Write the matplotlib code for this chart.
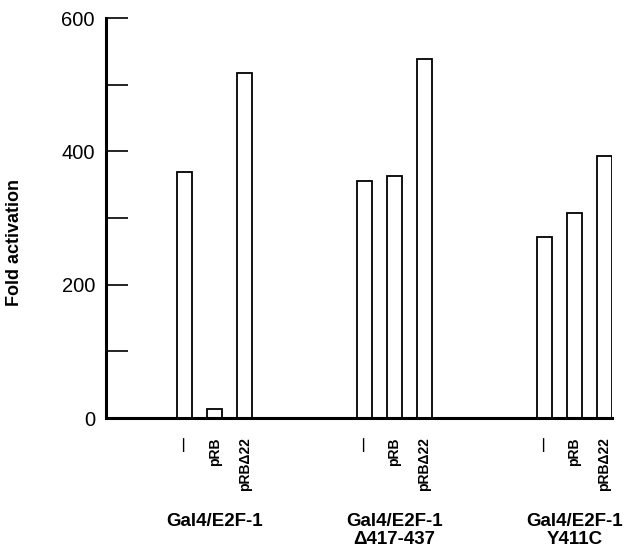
import numpy as np
import matplotlib
matplotlib.use("Agg")
import matplotlib.pyplot as plt
import matplotlib.transforms as mtransforms

plt.rcParams['font.family'] = ['Liberation Sans', 'DejaVu Sans']

groups = [["Gal4/E2F-1"], ["Gal4/E2F-1", "\u0394417-437"], ["Gal4/E2F-1", "Y411C"]]
conditions = ["\u2014", "pRB", "pRB\u039422"]
values = [
    [369, 13, 518],
    [356, 363, 538],
    [272, 308, 393],
]

fig = plt.figure(figsize=(6.27, 5.59), dpi=100)
ax = fig.add_axes([106 / 627, 1 - 418 / 559, (612 - 106) / 627, 400 / 559])

group_step = 6
width = 0.5
xs, heights, labels = [], [], []
for g, vals in enumerate(values):
    for j, v in enumerate(vals):
        xs.append(g * group_step + (j - 1))
        heights.append(v)
        labels.append(conditions[j])

ax.bar(xs, heights, width=width, color='white', edgecolor='black', linewidth=1.3)

ax.set_xlim(-3.62, xs[-1] + width / 2)
ax.set_ylim(0, 600)

for s in ['top', 'right']:
    ax.spines[s].set_visible(False)
ax.spines['left'].set_linewidth(2.2)
ax.spines['bottom'].set_linewidth(2.2)

ax.set_yticks([0, 200, 400, 600])
ax.set_yticks([100, 300, 500], minor=True)
ax.tick_params(axis='y', which='both', direction='in', length=16, width=1.2,
               labelsize=14.5, pad=8)
ax.tick_params(axis='y', which='major', width=1.2)

ax.set_xticks(xs)
ax.set_xticklabels(labels, rotation=90, fontsize=10, fontweight='bold', va='top')
ax.tick_params(axis='x', length=0, pad=14)

ax.set_ylabel("Fold activation", fontsize=13, fontweight='bold')
ax.yaxis.set_label_coords(-0.165, 0.44)

trans = mtransforms.blended_transform_factory(ax.transData, fig.transFigure)
for g, lines in enumerate(groups):
    for k, line in enumerate(lines):
        ax.text(g * group_step, 1 - (521 + 19 * k) / 559, line, transform=trans,
                ha='center', va='center', fontsize=13.5, fontweight='bold')

fig.savefig("out.png", dpi=100)
